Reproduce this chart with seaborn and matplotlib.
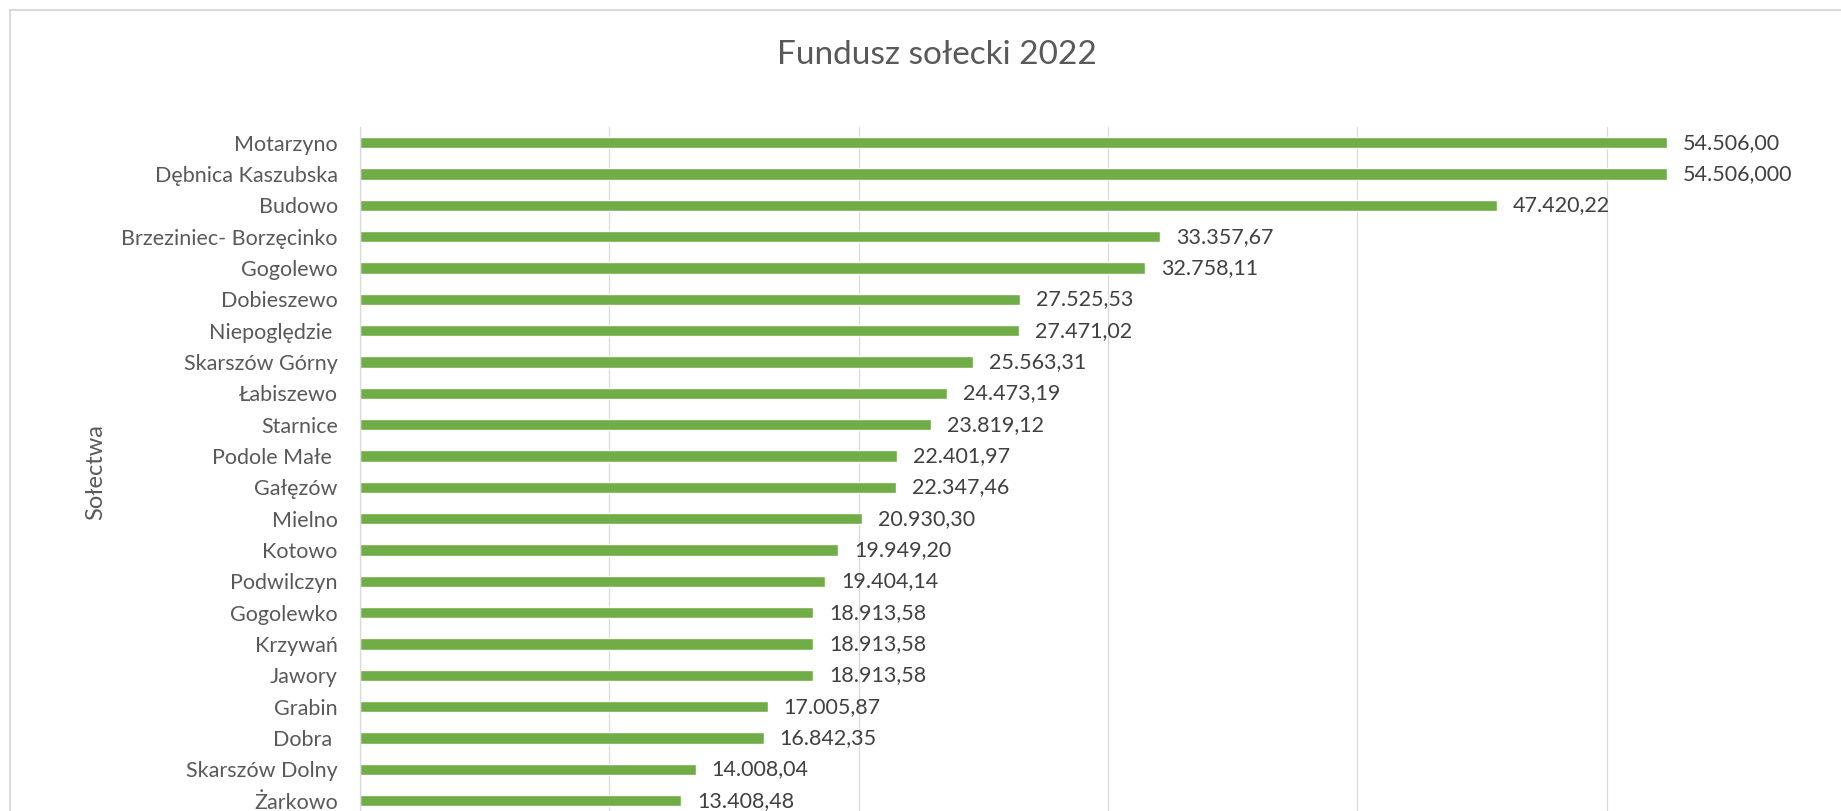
import matplotlib
matplotlib.use("Agg")
import matplotlib.pyplot as plt
import seaborn as sns
import pandas as pd
from matplotlib.ticker import MultipleLocator
from matplotlib.lines import Line2D

# ---------------- data ----------------
categories = [
    "Motarzyno", "Dębnica Kaszubska", "Budowo", "Brzeziniec- Borzęcinko",
    "Gogolewo", "Dobieszewo", "Niepoględzie ", "Skarszów Górny", "Łabiszewo",
    "Starnice", "Podole Małe ", "Gałęzów", "Mielno", "Kotowo", "Podwilczyn",
    "Gogolewko", "Krzywań", "Jawory", "Grabin", "Dobra ", "Skarszów Dolny",
    "Żarkowo",
]
values = [
    54506.00, 54506.00, 47420.22, 33357.67, 32758.11, 27525.53, 27471.02,
    25563.31, 24473.19, 23819.12, 22401.97, 22347.46, 20930.30, 19949.20,
    19404.14, 18913.58, 18913.58, 18913.58, 17005.87, 16842.35, 14008.04,
    13408.48,
]
value_labels = [
    "54.506,00", "54.506,000", "47.420,22", "33.357,67", "32.758,11",
    "27.525,53", "27.471,02", "25.563,31", "24.473,19", "23.819,12",
    "22.401,97", "22.347,46", "20.930,30", "19.949,20", "19.404,14",
    "18.913,58", "18.913,58", "18.913,58", "17.005,87", "16.842,35",
    "14.008,04", "13.408,48",
]
title = "Fundusz sołecki 2022"
y_title = "Sołectwa"

# ---------------- style ----------------
sns.set_theme(style="white")
plt.rcParams["font.family"] = ["Lato", "DejaVu Sans"]

W, H = 1841, 811
GRID_STEP = 10400
PX_PER_STEP = 249.3
AX_LEFT, AX_TOP, AX_BOTTOM = 360, 127, 816.3
AX_W = W - AX_LEFT
X_MAX = AX_W / PX_PER_STEP * GRID_STEP

fig = plt.figure(figsize=(W / 100, H / 100), dpi=100)
fig.patch.set_facecolor("white")
ax = fig.add_axes([AX_LEFT / W, 1 - AX_BOTTOM / H, AX_W / W, (AX_BOTTOM - AX_TOP) / H])

df = pd.DataFrame({"Sołectwo": categories, "Kwota": values})
sns.barplot(data=df, y="Sołectwo", x="Kwota", orient="h", color="#70AD47",
            saturation=1, width=0.367, ax=ax, errorbar=None)

ax.set_xlim(0, X_MAX)
ax.xaxis.set_major_locator(MultipleLocator(GRID_STEP))
ax.grid(axis="x", color="#D9D9D9", linewidth=0.9)
ax.grid(axis="y", visible=False)
ax.set_axisbelow(True)
for s in ["top", "right", "bottom"]:
    ax.spines[s].set_visible(False)
ax.spines["left"].set_color("#D9D9D9")
ax.spines["left"].set_linewidth(0.9)
ax.tick_params(axis="x", labelbottom=False, length=0)
ax.tick_params(axis="y", length=0, pad=16, labelsize=15.5, labelcolor="#595959")
ax.set_xlabel("")
ax.set_ylabel(y_title, fontsize=17, color="#595959")
ax.yaxis.label.set_va("center")
ax.yaxis.set_label_coords((96 - AX_LEFT) / AX_W, 0.5)

for i, (v, lab) in enumerate(zip(values, value_labels)):
    ax.annotate(lab, xy=(v, i), xytext=(16, 0), textcoords="offset pixels",
                ha="left", va="center", fontsize=15.5, color="#404040")

fig.text(937 / W, 1 - 55 / H, title, ha="center", va="center",
         fontsize=24, color="#595959")

# chart-area border
fig.add_artist(Line2D([10 / W, 10 / W], [0, 1 - 10 / H], color="#D9D9D9", lw=1.4,
                      transform=fig.transFigure))
fig.add_artist(Line2D([10 / W, 1], [1 - 10 / H, 1 - 10 / H], color="#D9D9D9", lw=1.4,
                      transform=fig.transFigure))

fig.savefig("out.png", dpi=100)
